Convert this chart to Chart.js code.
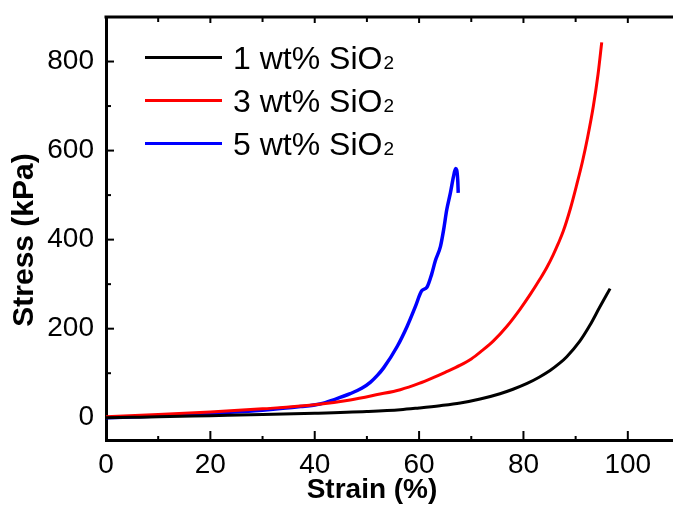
<!DOCTYPE html>
<html>
<head>
<meta charset="utf-8">
<script src="https://cdn.jsdelivr.net/npm/chart.js@4.4.1/dist/chart.umd.min.js"></script>
<style>
html,body{margin:0;padding:0;background:#fff;overflow:hidden;width:673px;height:506px;}
#wrap{width:690px;height:506px;}
</style>
</head>
<body>
<div id="wrap"><canvas id="c" width="690" height="506"></canvas></div>
<script>
// ---- data ----
const seriesNames = ["1 wt% SiO", "3 wt% SiO", "5 wt% SiO"];
const seriesSub = ["2", "2", "2"];
const seriesColors = ["#000000", "#ff0000", "#0000ff"];

const strain1 = [0, 5, 10, 20, 30, 40, 50, 56.4, 60, 64, 67.9, 71.7, 75.5, 78, 80.7, 83, 85.1, 87, 88.3, 90.8, 92.7, 94.6, 96.6];
const stress1 = [0, 1, 2, 4.5, 7, 10, 14, 18, 22, 27, 33, 42, 54, 64, 77, 91, 106, 123, 137, 172, 207, 248, 290];

const strain3 = [0, 10, 20, 30, 40, 46.8, 52, 56.4, 60, 62.7, 65, 67.9, 70, 72, 74.2, 76.8, 79.3, 81.3, 83.2, 84.5, 85.7, 86.7, 87.6, 89, 90.2, 91.3, 92.3, 93.4, 94.3, 95.0];
const stress3 = [2, 7, 13, 20, 29, 40, 52, 63, 77, 90, 102, 118, 132, 150, 172, 205, 243, 277, 312, 338, 366, 392, 418, 470, 523, 575, 630, 700, 772, 843];

const strain5 = [0, 10, 20, 30, 37.3, 41, 44, 46.8, 49, 50.7, 52, 53.2, 55.8, 57.7, 59.3, 60.5, 61.5, 62.4, 63.1, 64.1, 64.7, 65.3, 66.0, 66.6, 67.0, 67.4, 67.5];
const stress5 = [0, 4, 10, 17, 25, 31, 42, 54, 66, 80, 95, 112, 160, 205, 250, 285, 293, 322, 352, 385, 422, 467, 505, 542, 560, 535, 505];

const xTickLabels = [0, 20, 40, 60, 80, 100];
const xMinorTicks = [10, 30, 50, 70, 90, 110];
const yTickLabels = [0, 200, 400, 600, 800];
const yMinorTicks = [100, 300, 500, 700];
const xTitle = "Strain (%)";
const yTitle = "Stress (kPa)";

const toPts = (xs, ys) => xs.map((x, i) => ({x: x, y: ys[i]}));
const allX = [strain1, strain3, strain5];
const allY = [stress1, stress3, stress5];

const datasets = allX.map((xs, i) => ({
  label: seriesNames[i] + seriesSub[i],
  data: toPts(xs, allY[i]),
  borderColor: seriesColors[i],
  backgroundColor: seriesColors[i],
  borderWidth: i === 2 ? 3.5 : 3,
  pointRadius: 0,
  showLine: true,
  fill: false,
  cubicInterpolationMode: 'monotone'
}));

const FONT = "'Liberation Sans', Arial, sans-serif";

const decor = {
  id: 'decor',
  afterDraw(chart) {
    const ctx = chart.ctx;
    const a = chart.chartArea;
    const xs = chart.scales.x, ys = chart.scales.y;
    ctx.save();
    ctx.strokeStyle = '#000';
    ctx.lineWidth = 3;
    // top border
    ctx.beginPath();
    ctx.moveTo(a.left - 1.5, a.top);
    ctx.lineTo(chart.width, a.top);
    ctx.stroke();
    ctx.lineWidth = 2;
    // x ticks (inward), bottom and top
    const drawX = (vals, len, topLen) => vals.forEach(v => {
      const p = xs.getPixelForValue(v);
      ctx.beginPath(); ctx.moveTo(p, a.bottom); ctx.lineTo(p, a.bottom - len); ctx.stroke();
      ctx.beginPath(); ctx.moveTo(p, a.top); ctx.lineTo(p, a.top + topLen); ctx.stroke();
    });
    drawX(xTickLabels.slice(1), 9, 6);
    drawX(xMinorTicks, 4, 5);
    const drawY = (vals, len) => vals.forEach(v => {
      const p = ys.getPixelForValue(v);
      ctx.beginPath(); ctx.moveTo(a.left, p); ctx.lineTo(a.left + len, p); ctx.stroke();
    });
    drawY(yTickLabels, 8);
    drawY(yMinorTicks, 5);
    // axis titles
    ctx.fillStyle = '#000';
    ctx.font = "bold 28px " + FONT;
    ctx.textAlign = 'center';
    ctx.textBaseline = 'middle';
    ctx.fillText(xTitle, 372, 490);
    ctx.save();
    ctx.translate(25, 240);
    ctx.rotate(-Math.PI / 2);
    ctx.font = "bold 30px " + FONT;
    ctx.fillText(yTitle, 0, 0);
    ctx.restore();
    // legend
    const rows = [57.5, 100.5, 143.5];
    chart.data.datasets.forEach((ds, i) => {
      const y = rows[i];
      ctx.strokeStyle = seriesColors[i];
      ctx.lineWidth = 3;
      ctx.beginPath(); ctx.moveTo(145, y); ctx.lineTo(222, y); ctx.stroke();
      ctx.fillStyle = '#000';
      ctx.textAlign = 'left';
      ctx.textBaseline = 'alphabetic';
      ctx.font = "32px " + FONT;
      ctx.fillText(seriesNames[i], 233, y + 11.5);
      const w = ctx.measureText(seriesNames[i]).width;
      ctx.font = "19px " + FONT;
      ctx.fillText(seriesSub[i], 233 + w + 1, y + 11.5);
    });
    ctx.restore();
  }
};

new Chart(document.getElementById('c'), {
  type: 'scatter',
  data: { datasets: datasets },
  options: {
    responsive: false,
    animation: false,
    devicePixelRatio: 1,
    layout: { padding: { top: 17, right: 10, left: 0, bottom: 0 } },
    plugins: { legend: { display: false }, tooltip: { enabled: false } },
    scales: {
      x: {
        type: 'linear', min: 0, max: 110,
        afterFit: s => { s.height = 66; s.paddingLeft = 0; s.paddingRight = 0; },
        afterBuildTicks: s => { s.ticks = xTickLabels.map(v => ({value: v})); },
        grid: { display: true, drawOnChartArea: false, drawTicks: false },
        border: { display: true, color: '#000', width: 3 },
        ticks: { color: '#000', font: { family: FONT, size: 28 }, padding: 8, maxRotation: 0, autoSkip: false }
      },
      y: {
        type: 'linear', min: -50, max: 900,
        afterFit: s => { s.width = 106; s.paddingTop = 0; s.paddingBottom = 0; },
        afterBuildTicks: s => { s.ticks = yTickLabels.map(v => ({value: v})); },
        grid: { display: true, drawOnChartArea: false, drawTicks: false },
        border: { display: true, color: '#000', width: 3 },
        ticks: { color: '#000', font: { family: FONT, size: 28 }, padding: 12, autoSkip: false }
      }
    }
  },
  plugins: [decor]
});
</script>
</body>
</html>
